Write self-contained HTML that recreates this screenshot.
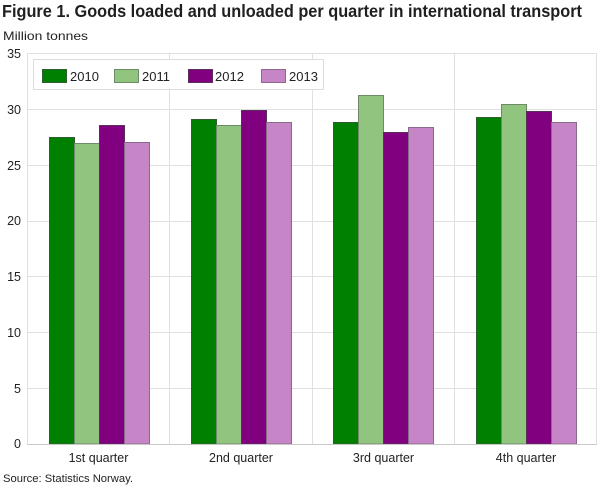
<!DOCTYPE html>
<html>
<head>
<meta charset="utf-8">
<style>
  html,body{margin:0;padding:0;background:#fff;}
  svg{display:block;}
  text{font-family:"Liberation Sans", sans-serif;}
</style>
</head>
<body>
<svg width="610" height="488" viewBox="0 0 610 488" xmlns="http://www.w3.org/2000/svg">
  <rect x="0" y="0" width="610" height="488" fill="#fff"/>
  <!-- Title -->
  <text x="2" y="17" font-size="17.5" font-weight="bold" fill="#1f1f1f" textLength="580" lengthAdjust="spacingAndGlyphs">Figure 1. Goods loaded and unloaded per quarter in international transport</text>
  <text x="3" y="40" font-size="12" fill="#222" textLength="85" lengthAdjust="spacingAndGlyphs">Million tonnes</text>

  <!-- Horizontal gridlines -->
  <g stroke="#e0e0e0" stroke-width="1">
    <line x1="27" y1="53.5" x2="597" y2="53.5"/>
    <line x1="27" y1="109.5" x2="597" y2="109.5"/>
    <line x1="27" y1="165.5" x2="597" y2="165.5"/>
    <line x1="27" y1="221.5" x2="597" y2="221.5"/>
    <line x1="27" y1="276.5" x2="597" y2="276.5"/>
    <line x1="27" y1="332.5" x2="597" y2="332.5"/>
    <line x1="27" y1="388.5" x2="597" y2="388.5"/>
  </g>
  <!-- Vertical gridlines -->
  <g stroke="#e0e0e0" stroke-width="1">
    <line x1="27.5" y1="53" x2="27.5" y2="444"/>
    <line x1="169.5" y1="53" x2="169.5" y2="444"/>
    <line x1="312.5" y1="53" x2="312.5" y2="444"/>
    <line x1="454.5" y1="53" x2="454.5" y2="444"/>
    <line x1="596.5" y1="53" x2="596.5" y2="444"/>
  </g>

  <!-- Y tick labels -->
  <g font-size="12.5" fill="#222" text-anchor="end">
    <text x="21" y="58">35</text>
    <text x="21" y="114">30</text>
    <text x="21" y="170">25</text>
    <text x="21" y="225">20</text>
    <text x="21" y="281">15</text>
    <text x="21" y="337">10</text>
    <text x="21" y="393">5</text>
    <text x="21" y="448">0</text>
  </g>

  <!-- Bars -->
  <g stroke-width="1">
    <!-- Q1 -->
    <rect x="49.5" y="137.5" width="25" height="306.5" fill="#008000" stroke="#2f5f2f"/>
    <rect x="74.5" y="143.5" width="25" height="300.5" fill="#90c47f" stroke="#6f8a68"/>
    <rect x="99.5" y="125.5" width="25" height="318.5" fill="#800080" stroke="#5a2f5a"/>
    <rect x="124.5" y="142.5" width="25" height="301.5" fill="#c585c6" stroke="#8a6a8a"/>
    <!-- Q2 -->
    <rect x="191.5" y="119.5" width="25" height="324.5" fill="#008000" stroke="#2f5f2f"/>
    <rect x="216.5" y="125.5" width="25" height="318.5" fill="#90c47f" stroke="#6f8a68"/>
    <rect x="241.5" y="110.5" width="25" height="333.5" fill="#800080" stroke="#5a2f5a"/>
    <rect x="266.5" y="122.5" width="25" height="321.5" fill="#c585c6" stroke="#8a6a8a"/>
    <!-- Q3 -->
    <rect x="333.5" y="122.5" width="25" height="321.5" fill="#008000" stroke="#2f5f2f"/>
    <rect x="358.5" y="95.5" width="25" height="348.5" fill="#90c47f" stroke="#6f8a68"/>
    <rect x="383.5" y="132.5" width="25" height="311.5" fill="#800080" stroke="#5a2f5a"/>
    <rect x="408.5" y="127.5" width="25" height="316.5" fill="#c585c6" stroke="#8a6a8a"/>
    <!-- Q4 -->
    <rect x="476.5" y="117.5" width="25" height="326.5" fill="#008000" stroke="#2f5f2f"/>
    <rect x="501.5" y="104.5" width="25" height="339.5" fill="#90c47f" stroke="#6f8a68"/>
    <rect x="526.5" y="111.5" width="25" height="332.5" fill="#800080" stroke="#5a2f5a"/>
    <rect x="551.5" y="122.5" width="25" height="321.5" fill="#c585c6" stroke="#8a6a8a"/>
  </g>

  <!-- X axis line -->
  <line x1="27" y1="444.5" x2="597" y2="444.5" stroke="#c8c8c8" stroke-width="1"/>

  <!-- X labels -->
  <g font-size="12.5" fill="#222" text-anchor="middle">
    <text x="98.5" y="462">1st quarter</text>
    <text x="241" y="462">2nd quarter</text>
    <text x="383.5" y="462">3rd quarter</text>
    <text x="526" y="462">4th quarter</text>
  </g>

  <!-- Legend -->
  <rect x="33.5" y="59.5" width="290" height="30" fill="#fff" stroke="#dcdcdc" stroke-width="1"/>
  <g stroke-width="1">
    <rect x="42.5" y="69.5" width="24" height="13" fill="#008000" stroke="#2f5f2f"/>
    <rect x="114.5" y="69.5" width="24" height="13" fill="#90c47f" stroke="#6f8a68"/>
    <rect x="188.5" y="69.5" width="24" height="13" fill="#800080" stroke="#5a2f5a"/>
    <rect x="261.5" y="69.5" width="24" height="13" fill="#c585c6" stroke="#8a6a8a"/>
  </g>
  <g font-size="13" fill="#222">
    <text x="70" y="81">2010</text>
    <text x="142" y="81">2011</text>
    <text x="215" y="81">2012</text>
    <text x="289" y="81">2013</text>
  </g>

  <!-- Source -->
  <text x="3" y="482" font-size="11" fill="#222" textLength="130" lengthAdjust="spacingAndGlyphs">Source: Statistics Norway.</text>
</svg>
</body>
</html>
